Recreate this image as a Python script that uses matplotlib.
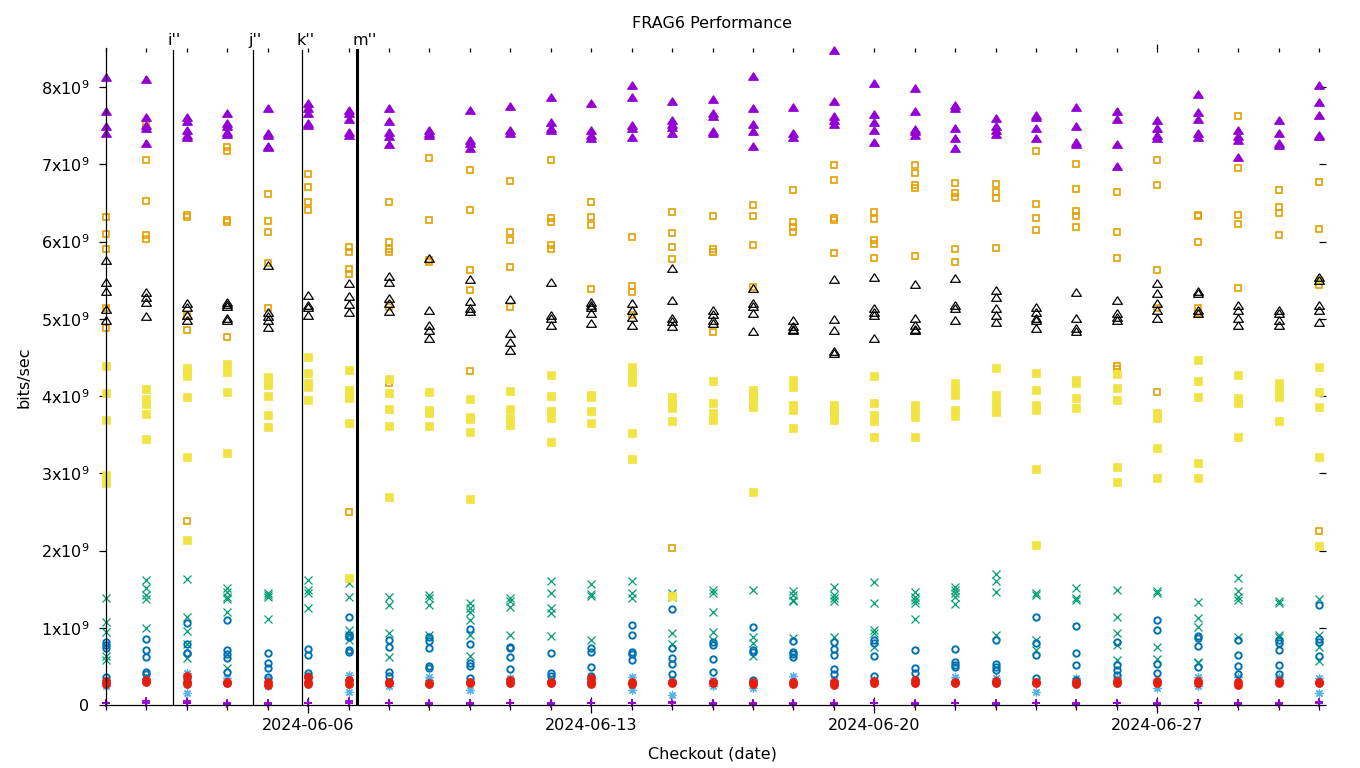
import numpy as np
import pandas as pd
import matplotlib
matplotlib.use('Agg')
import matplotlib.pyplot as plt
import matplotlib.dates as mdates
from matplotlib.ticker import FixedLocator

# ---------------- data (values in units of 1e9 bits/sec) ----------------
days = pd.date_range('2024-06-01', '2024-07-01', freq='D')
date_ticks = ['2024-06-06', '2024-06-13', '2024-06-20', '2024-06-27']
ytick_vals = [0, 1, 2, 3, 4, 5, 6, 7, 8]
marker_lines = ['2024-06-02 15:45', '2024-06-04 15:15', '2024-06-05 20:20', '2024-06-07 05:15']
marker_labels = ["i''", "j''", "k''", "m''"]

purple_plus = [
    [0.03, 0.02], [0.05, 0.02], [0.05, 0.02, 0.02], [0.02, 0.01], [0.01, 0.02],
    [0.02, 0.03], [0.05, 0.02], [0.02, 0.03], [0.01, 0.02], [0.03, 0.01],
    [0.02, 0.03], [0.02, 0.01], [0.02, 0.03], [0.03, 0.02], [0.02, 0.04],
    [0.02, 0.01], [0.01, 0.02], [0.03, 0.01], [0.01, 0.02], [0.03, 0.02],
    [0.02, 0.01], [0.02, 0.03], [0.02, 0.01], [0.03, 0.02], [0.02, 0.01],
    [0.03, 0.02], [0.02, 0.01], [0.02, 0.03], [0.02, 0.01], [0.02, 0.01],
    [0.04, 0.02],
]

green_x = [
    [1.38, 1.08, 0.95, 0.63, 0.58], [1.62, 1.51, 1.42, 1.37, 1.00], [1.63, 1.14, 0.96, 0.79, 0.61],
    [1.51, 1.46, 1.40, 1.37, 1.20, 0.48], [1.45, 1.42, 1.40, 1.11], [1.62, 1.49, 1.45, 1.26],
    [1.58, 1.40, 0.97, 0.91, 0.84], [1.40, 1.29, 0.93, 0.62], [1.42, 1.38, 1.29, 0.91],
    [1.32, 1.25, 1.21, 1.10, 0.91, 0.63], [1.38, 1.35, 1.27, 0.91], [1.60, 1.45, 1.26, 1.19, 0.89],
    [1.57, 1.44, 1.41, 0.84], [1.61, 1.45, 1.38], [1.45, 1.40, 0.93, 0.79],
    [1.49, 1.45, 1.20, 0.94, 0.84], [1.49, 0.88, 0.80, 0.63], [1.47, 1.42, 1.36, 1.35, 0.87],
    [1.53, 1.42, 1.38, 1.34, 0.88], [1.59, 1.32, 0.97, 0.93, 0.75], [1.46, 1.40, 1.36, 1.32, 1.11],
    [1.53, 1.49, 1.45, 1.40, 1.31], [1.70, 1.60, 1.46, 0.91], [1.45, 1.42, 0.84, 0.71],
    [1.51, 1.39, 1.36], [1.49, 1.14, 0.93, 0.78, 0.58], [1.48, 1.45, 0.75, 0.60],
    [1.33, 1.13, 1.01, 0.56, 0.54], [1.65, 1.47, 1.40, 1.36, 0.88], [1.35, 1.32, 0.91, 0.88],
    [1.37, 0.91, 0.75, 0.57],
]

lightblue_ast = [
    [0.33, 0.28, 0.24], [0.35, 0.30], [0.41, 0.28, 0.15], [0.35, 0.28], [0.35, 0.25],
    [0.35, 0.28], [0.39, 0.33, 0.17], [0.30, 0.25], [0.36, 0.32], [0.30, 0.19],
    [0.35, 0.28], [0.33, 0.28], [0.33, 0.28], [0.36, 0.20], [0.33, 0.13],
    [0.33, 0.25], [0.28, 0.22], [0.38, 0.30], [0.33, 0.28], [0.33, 0.28],
    [0.33, 0.28], [0.36, 0.31], [0.35, 0.28], [0.30, 0.17], [0.35, 0.28],
    [0.35, 0.28], [0.30, 0.22], [0.36, 0.24], [0.36, 0.30], [0.36, 0.33],
    [0.35, 0.30, 0.15],
]

orange_sq = [
    [6.32, 6.10, 5.90, 5.14, 4.88], [7.52, 7.05, 6.52, 6.08, 6.03], [6.34, 6.32, 5.03, 4.85, 2.38],
    [7.22, 7.17, 6.28, 6.25, 4.76], [6.61, 6.26, 6.12, 5.72, 5.14], [7.73, 6.87, 6.71, 6.51, 6.41],
    [5.93, 5.87, 5.64, 5.58, 2.50], [6.51, 5.99, 5.90, 5.87, 5.15, 4.17], [7.08, 6.28, 5.76, 5.73],
    [6.92, 6.41, 5.63, 5.37, 4.32], [6.78, 6.12, 6.02, 5.67, 5.15], [7.06, 6.30, 6.25, 5.95, 5.90],
    [6.51, 6.32, 6.21, 5.38], [6.06, 5.42, 5.35, 5.05], [6.38, 6.11, 5.93, 5.77, 2.03],
    [6.33, 5.90, 5.86, 4.83], [6.47, 6.33, 5.95, 5.41, 3.86], [6.67, 6.25, 6.19, 6.12],
    [6.99, 6.80, 6.30, 6.28, 5.85], [6.38, 6.29, 6.02, 5.97, 5.79], [6.99, 6.89, 6.73, 6.69, 5.81],
    [6.76, 6.63, 6.58, 5.90, 5.73], [6.74, 6.64, 6.56, 5.92], [7.17, 6.49, 6.31, 6.15],
    [7.00, 6.68, 6.39, 6.33, 6.19], [6.64, 6.12, 5.79, 4.39, 4.35], [7.05, 6.73, 5.63, 5.14, 4.05],
    [6.34, 6.33, 5.99, 5.14, 5.07], [7.62, 6.95, 6.34, 6.23, 5.40], [6.67, 6.45, 6.37, 6.08],
    [6.77, 6.16, 5.44, 2.25],
]

yellow_sq = [
    [4.39, 4.04, 3.69, 2.98, 2.87], [4.09, 3.96, 3.90, 3.77, 3.44], [4.36, 4.31, 4.26, 3.99, 3.21, 2.14],
    [4.41, 4.31, 4.05, 3.26], [4.25, 4.18, 4.14, 4.00, 3.75, 3.60], [4.50, 4.30, 4.17, 4.12, 3.95],
    [4.34, 4.08, 4.01, 3.97, 3.65, 1.64], [4.22, 4.04, 3.83, 3.61, 2.69], [4.05, 3.82, 3.78, 3.61],
    [3.96, 3.73, 3.70, 3.53, 2.67], [4.06, 3.83, 3.71, 3.62], [4.27, 4.00, 3.80, 3.71, 3.40],
    [4.01, 3.99, 3.80, 3.65], [4.38, 4.27, 4.18, 3.52, 3.18], [3.99, 3.91, 3.84, 3.68, 1.41],
    [4.19, 3.91, 3.78, 3.69], [4.08, 4.01, 3.95, 3.86, 2.76], [4.21, 4.12, 3.88, 3.82, 3.59],
    [3.88, 3.83, 3.78, 3.69], [4.26, 3.91, 3.75, 3.68, 3.47], [3.88, 3.82, 3.73, 3.47],
    [4.17, 4.08, 4.01, 3.82, 3.74], [4.36, 4.01, 3.91, 3.84, 3.79], [4.30, 4.08, 3.88, 3.82, 3.06, 2.07],
    [4.21, 4.17, 3.97, 3.84], [4.28, 4.10, 3.95, 3.08, 2.89], [3.78, 3.71, 3.33, 2.94],
    [4.47, 4.19, 3.99, 3.13, 2.94], [4.27, 3.97, 3.91, 3.47], [4.17, 4.08, 3.99, 3.68],
    [5.50, 4.38, 4.05, 3.86, 3.21, 2.06],
]

blue_circ = [
    [0.82, 0.78, 0.74, 0.36], [0.85, 0.71, 0.62, 0.43, 0.40], [1.06, 0.79, 0.67, 0.67, 0.35],
    [1.10, 0.71, 0.66, 0.61, 0.43], [0.67, 0.54, 0.48, 0.36], [0.72, 0.65, 0.41, 0.38],
    [1.14, 0.91, 0.88, 0.71, 0.69], [0.84, 0.75, 0.43, 0.38], [0.88, 0.83, 0.74, 0.51, 0.48],
    [0.98, 0.79, 0.54, 0.51, 0.35], [0.75, 0.74, 0.62, 0.47], [0.67, 0.41, 0.37],
    [0.74, 0.69, 0.49, 0.38], [1.04, 0.91, 0.69, 0.66, 0.58], [1.24, 0.74, 0.61, 0.53, 0.40],
    [0.82, 0.78, 0.60, 0.43], [1.01, 0.71, 0.69, 0.32], [0.83, 0.69, 0.66, 0.62],
    [0.82, 0.72, 0.65, 0.47, 0.40], [0.84, 0.80, 0.63, 0.38], [0.71, 0.48, 0.42],
    [0.72, 0.56, 0.52, 0.49], [0.84, 0.53, 0.49, 0.45], [1.14, 0.80, 0.65, 0.35],
    [1.02, 0.67, 0.52, 0.32], [0.82, 0.52, 0.45, 0.39], [1.10, 0.97, 0.53, 0.41],
    [0.89, 0.87, 0.76, 0.49], [0.84, 0.65, 0.51, 0.40], [0.84, 0.80, 0.71, 0.52, 0.40],
    [1.29, 0.85, 0.82, 0.63],
]

red_circ = [
    [0.31, 0.27], [0.32, 0.30], [0.38, 0.30, 0.27], [0.30, 0.28], [0.30, 0.26],
    [0.36, 0.30, 0.27], [0.33, 0.27], [0.30, 0.28], [0.29, 0.27], [0.30, 0.28],
    [0.32, 0.28], [0.30, 0.28], [0.35, 0.30, 0.27], [0.30, 0.27], [0.30, 0.28],
    [0.30, 0.28], [0.30, 0.27], [0.30, 0.27], [0.30, 0.26], [0.31, 0.28],
    [0.32, 0.28], [0.30, 0.28], [0.31, 0.29], [0.30, 0.28], [0.30, 0.27],
    [0.31, 0.28], [0.31, 0.29], [0.31, 0.29], [0.30, 0.26], [0.31, 0.29],
    [0.30, 0.28],
]

black_tri = [
    [5.76, 5.47, 5.36, 5.12, 4.98], [5.35, 5.28, 5.22, 5.04], [5.20, 5.15, 5.05, 4.98],
    [5.22, 5.19, 5.17, 5.01, 4.98], [5.70, 5.09, 5.03, 4.98, 4.89], [5.31, 5.18, 5.15, 5.05],
    [5.46, 5.29, 5.19, 5.09], [5.55, 5.47, 5.27, 5.20, 5.10], [5.79, 5.11, 4.92, 4.85, 4.75],
    [5.51, 5.23, 5.14, 5.10], [5.25, 4.82, 4.70, 4.60], [5.47, 5.05, 5.01, 4.92],
    [5.22, 5.18, 5.15, 5.07, 4.94], [5.20, 5.11, 5.02, 4.92], [5.66, 5.24, 5.01, 4.97, 4.90],
    [5.11, 5.06, 4.98, 4.95], [5.40, 5.20, 5.17, 5.07, 4.84], [4.98, 4.91, 4.87, 4.85],
    [5.51, 5.00, 4.85, 4.58, 4.56], [5.54, 5.14, 5.09, 5.05, 4.75], [5.45, 5.01, 4.92, 4.87, 4.85],
    [5.53, 5.18, 5.14, 4.98], [5.37, 5.28, 5.14, 5.05, 4.96], [5.15, 5.09, 5.01, 4.98, 4.88],
    [5.35, 5.01, 4.88, 4.84], [5.24, 5.07, 5.02, 4.98], [5.46, 5.33, 5.20, 5.11, 5.01],
    [5.36, 5.33, 5.11, 5.07], [5.18, 5.11, 5.01, 4.92], [5.11, 5.07, 4.98, 4.92],
    [5.54, 5.50, 5.18, 5.11, 4.96],
]

purple_tri = [
    [8.13, 7.69, 7.50, 7.40], [8.11, 7.61, 7.51, 7.47, 7.27], [7.61, 7.56, 7.44, 7.38, 7.35],
    [7.66, 7.53, 7.50, 7.42, 7.39], [7.73, 7.40, 7.38, 7.24, 7.22], [7.79, 7.73, 7.66, 7.53, 7.51],
    [7.70, 7.66, 7.58, 7.42, 7.38], [7.73, 7.56, 7.42, 7.37, 7.26], [7.44, 7.40, 7.38],
    [7.70, 7.31, 7.28, 7.21], [7.75, 7.44, 7.40], [7.87, 7.55, 7.47, 7.44],
    [7.79, 7.44, 7.38, 7.34], [8.03, 7.87, 7.51, 7.47, 7.35], [7.82, 7.57, 7.52, 7.48, 7.40],
    [7.84, 7.66, 7.62, 7.43, 7.40], [8.14, 7.73, 7.52, 7.43, 7.24], [7.74, 7.40, 7.35],
    [8.48, 7.82, 7.62, 7.57, 7.52], [8.05, 7.65, 7.55, 7.44, 7.29], [7.99, 7.69, 7.46, 7.43, 7.38],
    [7.77, 7.73, 7.47, 7.34, 7.21], [7.60, 7.50, 7.44, 7.39], [7.64, 7.61, 7.47, 7.34],
    [7.74, 7.50, 7.29, 7.26], [7.69, 7.59, 7.26, 6.98], [7.57, 7.47, 7.38, 7.34],
    [7.91, 7.67, 7.58, 7.41, 7.35], [7.44, 7.36, 7.32, 7.09], [7.57, 7.41, 7.27, 7.25],
    [8.03, 7.81, 7.64, 7.38, 7.36],
]

SCALE = 1e9

# ---------------- figure ----------------
W, H = 1360, 768
fig = plt.figure(figsize=(W / 100, H / 100), dpi=100)
L, R, T, B = 106, 1319, 48, 705
ax = fig.add_axes([L / W, (H - B) / H, (R - L) / W, (B - T) / H])

FS = 11.5
TRI = [(0, 0.78), (-1, -0.78), (1, -0.78), (0, 0.78)]   # gnuplot-like wide triangle

series = [
    (purple_plus,   dict(marker='+', color='#9400d3', ms=6.0, mew=1.3)),
    (green_x,       dict(marker='x', color='#009e73', ms=5.5, mew=0.9)),
    (lightblue_ast, dict(marker=(8, 2, 0), color='#56b4e9', ms=6.0, mew=0.9)),
    (orange_sq,     dict(marker='s', color='#e69f00', mfc='none', ms=5.0, mew=1.2)),
    (yellow_sq,     dict(marker='s', color='#f0e442', ms=5.5, mew=0.5)),
    (blue_circ,     dict(marker='o', color='#0072b2', mfc='none', ms=4.6, mew=1.4)),
    (red_circ,      dict(marker='o', color='#e51e10', ms=5.8, mew=0.5)),
    (black_tri,     dict(marker=TRI, color='#000000', mfc='none', ms=7.0, mew=0.9)),
    (purple_tri,    dict(marker=TRI, color='#9400d3', ms=7.0, mew=0.8)),
]

for vals, style in series:
    xs = np.repeat(days.values, [len(v) for v in vals])
    ys = np.concatenate([np.asarray(v, float) for v in vals]) * SCALE
    ax.plot(xs, ys, linestyle='none', clip_on=False, **style)

# marker vertical lines
for d, lab in zip(marker_lines, marker_labels):
    dt = pd.Timestamp(d)
    ax.axvline(dt, color='black', lw=2.2 if lab == "m''" else 0.9, ymax=(B - 50) / (B - T))
    ax.annotate(lab, xy=(mdates.date2num(dt), 1), xycoords=('data', 'axes fraction'),
                xytext=(-5, 3), textcoords='offset pixels', ha='left', va='baseline',
                fontsize=FS)

# axes limits
ax.set_xlim(days[0], days[-1])
ax.set_ylim(0, (B - T) / 77.25 * SCALE)

# y ticks
ax.yaxis.set_major_locator(FixedLocator([v * SCALE for v in ytick_vals]))
ax.set_yticklabels(['0' if v == 0 else r'%dx10$^{9}$' % v for v in ytick_vals])
ax.tick_params(axis='y', direction='out', length=5, width=0.9, right=True, labelright=False,
               labelsize=FS, pad=7)

# x ticks
ax.xaxis.set_major_locator(FixedLocator([mdates.date2num(pd.Timestamp(d)) for d in date_ticks]))
ax.xaxis.set_major_formatter(mdates.DateFormatter('%Y-%m-%d'))
ax.xaxis.set_minor_locator(mdates.DayLocator())
ax.tick_params(axis='x', which='major', direction='inout', length=11, width=0.9,
               labelsize=FS, pad=4, top=False)
ax.tick_params(axis='x', which='minor', direction='inout', length=6.5, width=0.9, top=False)

# top mirrored ticks
sec = ax.secondary_xaxis('top')
sec.xaxis.set_major_locator(FixedLocator([mdates.date2num(pd.Timestamp('2024-06-27'))]))
sec.xaxis.set_minor_locator(mdates.DayLocator())
sec.tick_params(which='major', direction='inout', length=6, width=0.9, labeltop=False)
sec.tick_params(which='minor', direction='in', length=3, width=0.9)
sec.spines['top'].set_visible(False)

for s in ['top', 'right']:
    ax.spines[s].set_visible(False)
for s in ['left', 'bottom']:
    ax.spines[s].set_linewidth(0.9)

# texts
fig.text((L + R) / 2 / W, 1 - 24 / H, 'FRAG6 Performance', ha='center', va='center', fontsize=FS)
fig.text(24 / W, 1 - 377 / H, 'bits/sec', rotation=90, ha='center', va='center', fontsize=FS)
fig.text((L + R) / 2 / W, 1 - 754 / H, 'Checkout (date)', ha='center', va='center', fontsize=FS)

fig.savefig('out.png', dpi=100)
